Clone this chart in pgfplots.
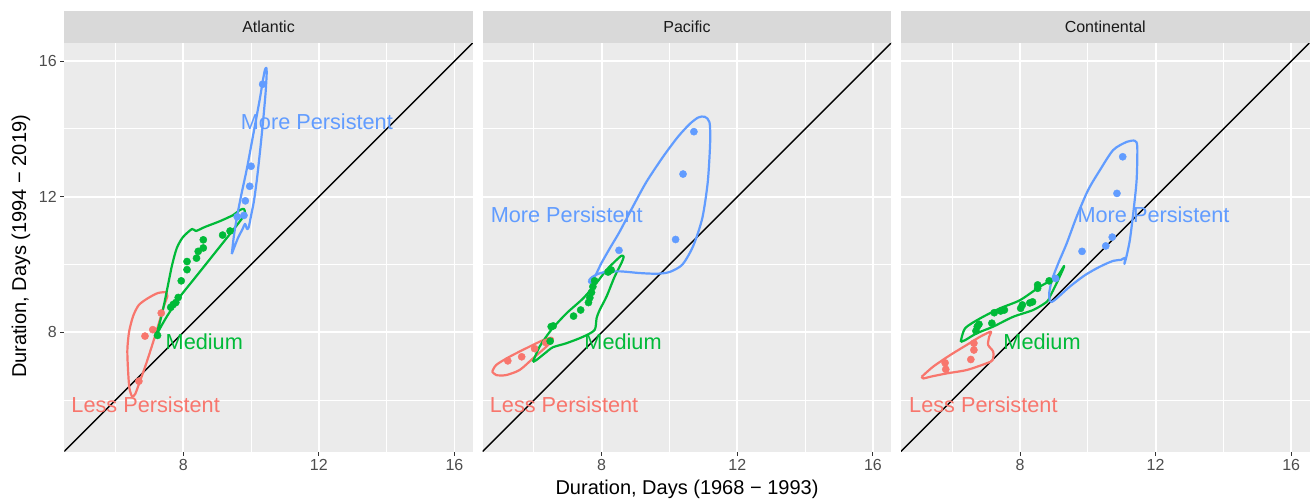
\documentclass[border=0pt]{standalone}
\usepackage{fontspec}
\setmainfont{Liberation Sans}
\usepackage{pgfplots}
\pgfplotsset{compat=1.18}

\definecolor{panelbg}{HTML}{EBEBEB}
\definecolor{stripbg}{HTML}{D9D9D9}
\definecolor{lessc}{HTML}{F8766D}
\definecolor{medc}{HTML}{00BA38}
\definecolor{morec}{HTML}{619CFF}
\definecolor{ticklab}{HTML}{4D4D4D}
\definecolor{tickmark}{HTML}{333333}
\definecolor{striptext}{HTML}{1A1A1A}

\newcommand{\fs}[1]{\fontsize{#1}{#1}\selectfont}

\tikzset{lab/.style={font=\fs{21.7bp}, text=#1}}

\pgfplotsset{
  facet/.style={
    scale only axis, width=408.5bp, height=409bp, anchor=south west,
    xmin=4.49, xmax=16.54, ymin=4.48, ymax=16.545,
    axis background/.style={fill=panelbg},
    axis line style={draw=none},
    xtick={8,12,16}, ytick={8,12,16},
    minor xtick={6,10,14}, minor ytick={6,10,14},
    grid=both,
    major grid style={draw=white, line width=1.95bp},
    minor grid style={draw=white, line width=1bp},
    tick align=outside, tick pos=left,
    major tick length=4bp, minor tick length=0pt,
    tick style={draw=tickmark, line width=1bp},
    ticklabel style={font=\fs{16bp}, text=ticklab},
    /pgf/number format/assume math mode=true,
  },
  noyticks/.style={yticklabels={}, ytick style={draw=none}},
  diag/.style={black, line width=1.5bp, forget plot},
  pts/.style={only marks, mark=*, mark size=3.6bp, color=#1,
              mark options={draw=none, fill=#1}},
  hull/.style={draw=#1, line width=2.2bp, smooth, tension=0.45,
               no marks, line join=round},
}

\begin{document}
\begin{tikzpicture}
\useasboundingbox (0bp,0bp) rectangle (1312bp,501bp);

% ---------------- Atlantic ----------------
\begin{axis}[facet, name=a1, at={(64.3bp,49.3bp)}]
  \addplot[diag] coordinates {(4,4) (17,17)};
  \addplot[pts=lessc] coordinates {(6.87,7.89) (7.10,8.08) (7.35,8.57) (6.69,6.56)};
  \addplot[pts=medc] coordinates {(7.24,7.91) (7.63,8.74) (7.70,8.82) (7.78,8.88)
    (7.85,9.03) (7.94,9.52) (8.11,9.85) (8.11,10.09) (8.39,10.19) (8.44,10.39)
    (8.59,10.49) (8.59,10.73) (9.16,10.87) (9.38,10.99)};
  \addplot[pts=morec] coordinates {(9.59,11.41) (9.79,11.45) (9.83,11.88)
    (9.96,12.31) (10.00,12.90) (10.34,15.32)};
  \addplot[hull=lessc] coordinates {(7.49,9.19) (7.25,9.16) (6.96,9.01) (6.69,8.81)
    (6.52,8.48) (6.40,8.01) (6.35,7.48) (6.37,6.89) (6.41,6.36) (6.49,6.11)
    (6.58,6.18) (6.69,6.47) (6.90,7.06) (7.11,7.71) (7.28,8.27) (7.43,8.78)
    (7.53,9.07) (7.49,9.19)};
  \addplot[hull=medc] coordinates {(7.18,7.86) (7.31,8.30) (7.43,8.81) (7.55,9.40)
    (7.67,9.99) (7.81,10.49) (7.99,10.81) (8.26,11.05) (8.37,10.99) (8.64,11.11)
    (9.08,11.28) (9.47,11.46) (9.67,11.61) (9.79,11.64) (9.82,11.52) (9.77,11.41)
    (9.47,11.02) (9.08,10.53) (8.69,10.04) (8.29,9.54) (7.90,9.05) (7.51,8.46)
    (7.26,8.02) (7.18,7.86)};
  \addplot[hull=morec] coordinates {(9.43,10.31) (9.50,10.90) (9.60,11.50)
    (9.72,12.10) (9.87,12.80) (10.02,13.60) (10.15,14.30) (10.26,14.90)
    (10.36,15.50) (10.41,15.75) (10.45,15.80) (10.46,15.64) (10.43,15.10)
    (10.36,14.30) (10.27,13.40) (10.17,12.50) (10.08,11.85) (10.00,11.45)
    (9.93,11.10) (9.88,11.05) (9.82,11.20) (9.75,11.05) (9.62,10.80)
    (9.52,10.55) (9.43,10.31)};
  \node[lab=morec] at (axis cs:11.94,14.21) {More Persistent};
  \node[lab=medc] at (axis cs:8.62,7.73) {Medium};
  \node[lab=lessc] at (axis cs:6.89,5.86) {Less Persistent};
\end{axis}

% ---------------- Pacific ----------------
\begin{axis}[facet, noyticks, name=a2, at={(482.7bp,49.3bp)}]
  \addplot[diag] coordinates {(4,4) (17,17)};
  \addplot[pts=lessc] coordinates {(5.23,7.16) (5.64,7.28) (6.02,7.52) (6.35,7.70)};
  \addplot[pts=medc] coordinates {(6.48,7.74) (6.51,8.17) (6.57,8.19) (7.17,8.48)
    (7.38,8.66) (7.61,8.88) (7.65,9.02) (7.70,9.18) (7.74,9.35) (7.79,9.52)
    (8.19,9.78) (8.28,9.84)};
  \addplot[pts=morec] coordinates {(8.51,10.42) (10.18,10.74) (10.40,12.67) (10.72,13.92)};
  \addplot[hull=lessc] coordinates {(4.77,6.84) (4.89,7.04) (5.28,7.28) (5.77,7.53)
    (6.27,7.77) (6.51,7.84) (6.56,7.77) (6.37,7.58) (5.97,7.23) (5.58,6.89)
    (5.18,6.74) (4.89,6.74) (4.77,6.84)};
  \addplot[hull=medc] coordinates {(5.97,7.13) (6.17,7.58) (6.51,8.07) (6.96,8.56)
    (7.45,9.00) (7.84,9.45) (8.14,9.84) (8.43,10.13) (8.58,10.26) (8.65,10.23)
    (8.58,10.04) (8.38,9.64) (8.14,9.05) (7.94,8.66) (7.85,8.42) (7.79,8.07)
    (7.45,7.87) (6.96,7.68) (6.56,7.56) (6.32,7.38) (6.07,7.18) (5.97,7.13)};
  \addplot[hull=morec] coordinates {(7.62,9.52) (7.68,9.60) (7.80,9.68) (8.04,9.77)
    (8.53,9.80) (9.12,9.75) (9.62,9.73) (10.00,9.78) (10.38,10.00) (10.70,10.55)
    (10.97,11.38) (11.13,12.45) (11.20,13.62) (11.18,14.20) (11.04,14.36)
    (10.85,14.34) (10.60,14.15) (10.25,13.77) (9.81,13.18) (9.32,12.44)
    (8.92,11.71) (8.53,10.97) (8.24,10.48) (7.99,10.04) (7.85,9.75) (7.72,9.52)
    (7.65,9.46) (7.62,9.52)};
  \node[lab=morec] at (axis cs:6.97,11.46) {More Persistent};
  \node[lab=medc] at (axis cs:8.63,7.73) {Medium};
  \node[lab=lessc] at (axis cs:6.89,5.86) {Less Persistent};
\end{axis}

% ---------------- Continental ----------------
\begin{axis}[facet, noyticks, name=a3, at={(901bp,49.3bp)}]
  \addplot[diag] coordinates {(4,4) (17,17)};
  \addplot[pts=lessc] coordinates {(5.79,7.10) (5.81,6.91) (6.55,7.20) (6.64,7.48) (6.64,7.68)};
  \addplot[pts=medc] coordinates {(6.70,8.04) (6.74,8.17) (6.79,8.24) (7.17,8.27)
    (7.24,8.58) (7.43,8.63) (7.54,8.66) (8.02,8.71) (8.07,8.81) (8.29,8.87)
    (8.37,8.90) (8.52,9.30) (8.52,9.40) (8.86,9.52)};
  \addplot[pts=morec] coordinates {(9.05,9.59) (9.83,10.39) (10.53,10.55)
    (10.72,10.81) (10.86,12.10) (11.03,13.18)};
  \addplot[hull=lessc] coordinates {(5.10,6.69) (5.44,6.99) (5.94,7.33) (6.43,7.63)
    (6.82,7.87) (7.14,8.02) (7.09,7.87) (7.06,7.63) (7.21,7.43) (7.19,7.18)
    (7.02,7.09) (6.43,6.89) (5.84,6.79) (5.35,6.69) (5.15,6.64) (5.10,6.69)};
  \addplot[hull=medc] coordinates {(6.25,7.72) (6.38,8.12) (6.82,8.41) (7.41,8.71)
    (8.00,8.95) (8.59,9.35) (9.08,9.64) (9.30,9.96) (9.26,9.84) (9.08,9.45)
    (8.88,9.05) (8.79,8.90) (8.39,8.66) (7.80,8.46) (7.21,8.17) (6.72,7.97)
    (6.38,7.77) (6.25,7.72)};
  \addplot[hull=morec] coordinates {(8.88,8.93) (8.86,9.15) (8.94,9.54) (9.13,10.04)
    (9.38,10.63) (9.67,11.41) (10.01,12.20) (10.36,12.79) (10.75,13.38)
    (11.15,13.62) (11.39,13.65) (11.46,13.47) (11.44,12.49) (11.34,11.51)
    (11.24,10.72) (11.15,10.28) (11.08,10.02) (11.10,10.20) (10.98,10.14)
    (10.75,10.11) (10.36,9.94) (9.92,9.69) (9.47,9.35) (9.08,9.00) (8.94,8.90)
    (8.88,8.93)};
  \node[lab=morec] at (axis cs:11.94,11.46) {More Persistent};
  \node[lab=medc] at (axis cs:8.65,7.73) {Medium};
  \node[lab=lessc] at (axis cs:6.92,5.86) {Less Persistent};
\end{axis}

% facet strips
\foreach \ax/\name in {a1/Atlantic, a2/Pacific, a3/Continental}{
  \fill[stripbg] (\ax.north west) rectangle ([yshift=31.7bp]\ax.north east);
  \node[font=\fs{16bp}, text=striptext] at ([yshift=15.85bp]\ax.north) {\name};
}

% axis titles
\node[font=\fs{20bp}, rotate=90] at (21bp,254.5bp) {Duration, Days (1994 − 2019)};
\node[font=\fs{20bp}] at (687bp,12bp) {Duration, Days (1968 − 1993)};
\end{tikzpicture}
\end{document}
